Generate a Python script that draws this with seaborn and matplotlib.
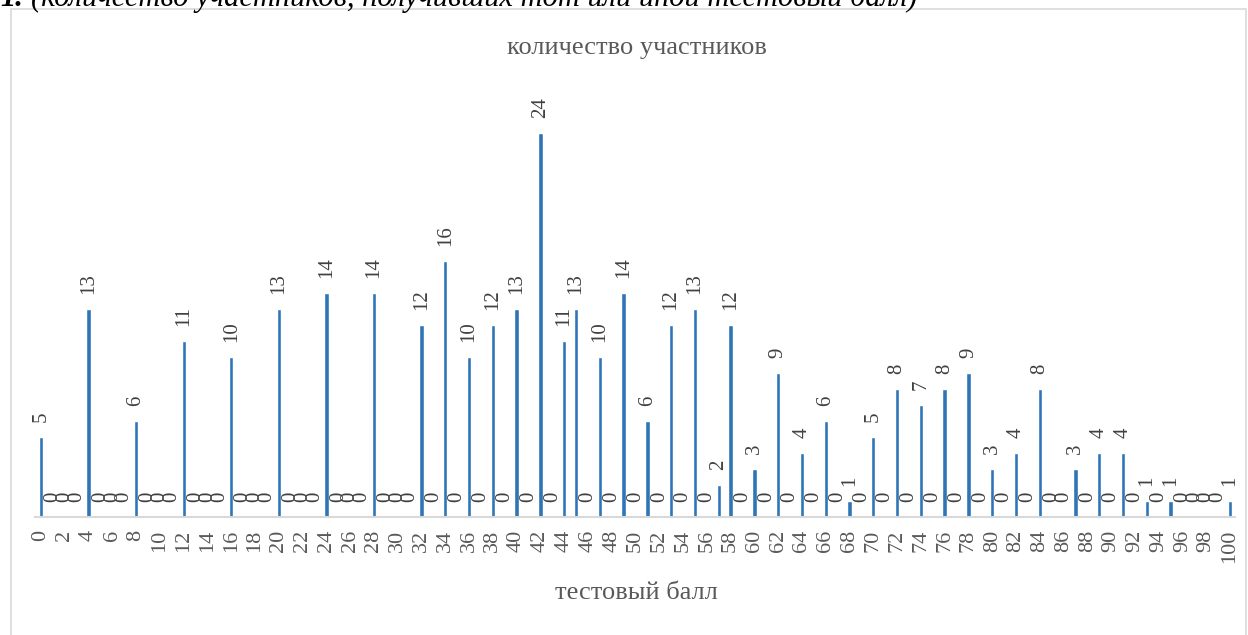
import matplotlib
matplotlib.use("Agg")
import matplotlib.pyplot as plt
import seaborn as sns
import pandas as pd
from matplotlib.patches import Rectangle

# ---- data ----
scores = [str(s) for s in range(0, 101)]
counts = [5, 0, 0, 0, 13, 0, 0, 0, 6, 0,
          0, 0, 11, 0, 0, 0, 10, 0, 0, 0,
          13, 0, 0, 0, 14, 0, 0, 0, 14, 0,
          0, 0, 12, 0, 16, 0, 10, 0, 12, 0,
          13, 0, 24, 0, 11, 13, 0, 10, 0, 14,
          0, 6, 0, 12, 0, 13, 0, 2, 12, 0,
          3, 0, 9, 0, 4, 0, 6, 0, 1, 0,
          5, 0, 8, 0, 7, 0, 8, 0, 9, 0,
          3, 0, 4, 0, 8, 0, 0, 3, 0, 4,
          0, 4, 0, 1, 0, 1, 0, 0, 0, 0,
          1]
tick_labels = [str(s) for s in range(0, 101, 2)]
title = "количество участников"
xlabel = "тестовый балл"
caption_num = "1."
caption = "(количество участников, получивших тот или иной тестовый балл)"

df = pd.DataFrame({"score": scores, "count": counts})

sns.set_theme(style="white")
plt.rcParams["font.family"] = ["Liberation Serif", "DejaVu Serif"]

W, H = 1248, 635
fig = plt.figure(figsize=(W / 100, H / 100), dpi=100)

# chart frame
fig.patches.append(Rectangle((11 / W, -0.05), (1246 - 11) / W, 1.05 - 9 / H,
                             transform=fig.transFigure, fill=False,
                             edgecolor="#D9D9D9", linewidth=1.2))

# caption above (cut off at top)
fig.text(0.0, 1 - 6 / H, caption_num, ha="left", va="baseline", fontsize=22,
         style="italic", weight="bold", color="black")
fig.text(31 / W, 1 - 6 / H, caption, ha="left", va="baseline", fontsize=22,
         style="italic", color="black")

ax_left, ax_right = 35, 1235
base_y = 517
unit = 16.0
ymax = 28
ax = fig.add_axes([ax_left / W, (H - base_y) / H, (ax_right - ax_left) / W, ymax * unit / H])

sns.barplot(data=df, x="score", y="count", order=scores, color="#2E75B6",
            width=0.36, saturation=1, ax=ax)

px = (1230 - 41) / 100.0
ax.set_xlim(-(41 - ax_left) / px, 100 + (ax_right - 1230) / px)
ax.set_ylim(0, ymax)

for c in ax.containers:
    ax.bar_label(c, labels=[str(v) for v in counts], rotation=90, padding=10.5,
                 fontsize=15, color="#404040")

ax.set_xticks(list(range(0, 101, 2)))
ax.set_xticklabels(tick_labels, rotation=90, fontsize=16, color="#595959")
ax.tick_params(axis="x", length=0, pad=9)
ax.set_yticks([])
ax.set_xlabel("")
ax.set_ylabel("")
for s in ["top", "left", "right"]:
    ax.spines[s].set_visible(False)
ax.spines["bottom"].set_color("#D9D9D9")
ax.spines["bottom"].set_linewidth(1.5)

fig.text(637 / W, 1 - 48 / H, title, ha="center", va="center", fontsize=19, color="#595959")
fig.text(636 / W, 1 - 593 / H, xlabel, ha="center", va="center", fontsize=19, color="#595959")

fig.savefig("out.png", dpi=100)
